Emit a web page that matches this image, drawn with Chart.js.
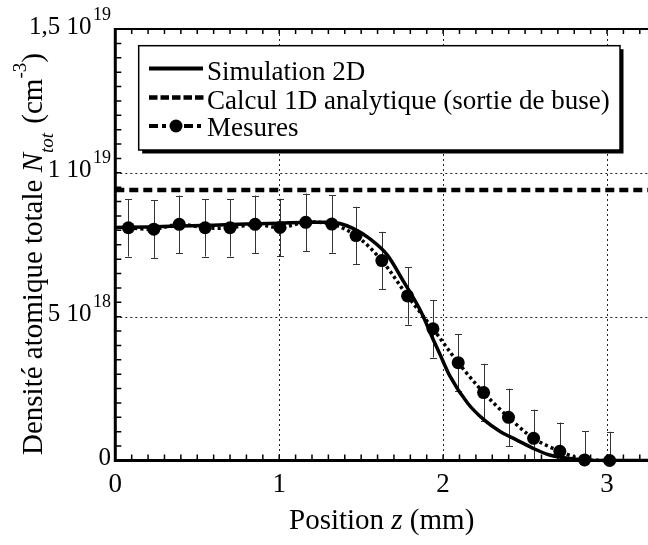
<!DOCTYPE html>
<html>
<head>
<meta charset="utf-8">
<script src="https://cdn.jsdelivr.net/npm/chart.js@4"></script>
<style>
html,body{margin:0;padding:0;background:#fff;}
canvas{display:block;}
</style>
</head>
<body>
<canvas id="c" width="648" height="545"></canvas>
<script>
// ---- Data (density in units of 1e18 cm^-3, position in mm) ----
const simX = [0, 0.2, 0.4, 0.6, 0.8, 1.0, 1.2, 1.3, 1.37, 1.45, 1.55, 1.66, 1.76, 1.86, 1.94, 1.98, 2.04, 2.15, 2.25, 2.35, 2.45, 2.55, 2.65, 2.76, 2.86, 3.0, 3.25];
const simY = [8.10, 8.12, 8.15, 8.18, 8.22, 8.25, 8.28, 8.28, 8.24, 8.07, 7.72, 7.14, 6.21, 5.23, 4.20, 3.70, 2.95, 1.99, 1.41, 1.00, 0.71, 0.42, 0.19, 0.08, 0.02, 0, 0];
const calcX = [0, 3.25];
const calcY = [9.4, 9.4];
const mesX = [0.08, 0.235, 0.39, 0.548, 0.70, 0.853, 1.005, 1.162, 1.321, 1.469, 1.626, 1.783, 1.938, 2.092, 2.247, 2.399, 2.552, 2.712, 2.863, 3.016];
const mesY = [8.09, 8.04, 8.21, 8.09, 8.09, 8.21, 8.10, 8.28, 8.22, 7.82, 6.95, 5.72, 4.58, 3.40, 2.36, 1.50, 0.77, 0.32, 0.02, 0.0];
const mesErr = [1.0, 1.0, 1.0, 1.0, 1.0, 1.0, 1.0, 1.0, 1.0, 1.0, 1.0, 1.0, 1.0, 1.0, 1.0, 1.0, 1.0, 1.0, 1.0, 1.0];
const seriesNames = ['Simulation 2D', 'Calcul 1D analytique (sortie de buse)', 'Mesures'];
const xTicks = [0, 1, 2, 3];
const xTickLabels = ['0', '1', '2', '3'];
const yTicks = [0, 5, 10, 15];
const yTickMant = ['0', '5 10', '1 10', '1,5 10'];
const yTickExp = ['', '18', '19', '19'];
const xGrid = [1, 2, 3];
const yGrid = [5, 10];

const SERIF = '"Liberation Serif", "Times New Roman", serif';

const deco = {
  id: 'deco',
  beforeDatasetsDraw(chart) {
    const {ctx, chartArea: a, scales: {x, y}} = chart;
    ctx.save();
    ctx.strokeStyle = '#222';
    ctx.lineWidth = 1;
    ctx.setLineDash([2, 3]);
    for (const v of xGrid) {
      const px = Math.round(x.getPixelForValue(v)) + 0.5;
      ctx.beginPath(); ctx.moveTo(px, a.top); ctx.lineTo(px, a.bottom); ctx.stroke();
    }
    for (const v of yGrid) {
      const py = Math.round(y.getPixelForValue(v)) + 0.5;
      ctx.beginPath(); ctx.moveTo(a.left, py); ctx.lineTo(a.right, py); ctx.stroke();
    }
    ctx.setLineDash([]);
    ctx.beginPath(); ctx.rect(a.left, a.top, a.right - a.left, a.bottom - a.top); ctx.clip();
    ctx.strokeStyle = '#333';
    ctx.lineWidth = 1;
    for (let i = 0; i < mesX.length; i++) {
      const px = Math.round(x.getPixelForValue(mesX[i])) + 0.5;
      const t = y.getPixelForValue(mesY[i] + mesErr[i]);
      const b = y.getPixelForValue(mesY[i] - mesErr[i]);
      ctx.beginPath();
      ctx.moveTo(px, t); ctx.lineTo(px, b);
      ctx.moveTo(px - 3.5, Math.round(t) + 0.5); ctx.lineTo(px + 3.5, Math.round(t) + 0.5);
      ctx.moveTo(px - 3.5, Math.round(b) + 0.5); ctx.lineTo(px + 3.5, Math.round(b) + 0.5);
      ctx.stroke();
    }
    ctx.restore();
  },
  afterDatasetsDraw(chart) {
    const {ctx, chartArea: a, scales: {x, y}} = chart;
    ctx.save();
    ctx.strokeStyle = '#000';
    ctx.lineWidth = 1.5;
    ctx.beginPath();
    for (let k = 0; k <= 32; k++) {
      const px = x.getPixelForValue(k / 10);
      ctx.moveTo(px, a.bottom); ctx.lineTo(px, a.bottom - 6);
      ctx.moveTo(px, a.top); ctx.lineTo(px, a.top + 5);
    }
    for (let k = 0; k <= 30; k++) {
      const py = y.getPixelForValue(k / 2);
      ctx.moveTo(a.left, py); ctx.lineTo(a.left + 6, py);
    }
    ctx.stroke();
    ctx.lineWidth = 2;
    ctx.beginPath(); ctx.moveTo(a.left, a.top); ctx.lineTo(a.right, a.top); ctx.stroke();
    ctx.lineWidth = 3;
    ctx.beginPath(); ctx.moveTo(a.left, a.top - 1); ctx.lineTo(a.left, a.bottom); ctx.lineTo(a.right, a.bottom); ctx.stroke();
    ctx.restore();
  },
  afterDraw(chart) {
    const {ctx, chartArea: a, scales: {x, y}} = chart;
    ctx.save();
    ctx.fillStyle = '#000';
    ctx.font = '27px ' + SERIF;
    ctx.textAlign = 'center';
    ctx.textBaseline = 'alphabetic';
    xTicks.forEach((v, i) => ctx.fillText(xTickLabels[i], x.getPixelForValue(v), 492));
    const rightEdge = 111;
    yTicks.forEach((v, i) => {
      const py = y.getPixelForValue(v);
      ctx.textAlign = 'left';
      ctx.font = '18px ' + SERIF;
      const ew = yTickExp[i] ? ctx.measureText(yTickExp[i]).width : 0;
      if (yTickExp[i]) ctx.fillText(yTickExp[i], rightEdge - ew, py - 9.5);
      ctx.font = '25px ' + SERIF;
      const mw = ctx.measureText(yTickMant[i]).width;
      ctx.fillText(yTickMant[i], rightEdge - ew - (ew ? 1.5 : 0) - mw, py + 4.5);
    });
    // x axis title
    const xt = [['Position ', 'normal'], ['z', 'italic'], [' (mm)', 'normal']];
    let tw = 0;
    xt.forEach(p => { ctx.font = p[1] + ' 29px ' + SERIF; tw += ctx.measureText(p[0]).width; });
    let cx = (a.left + a.right) / 2 - tw / 2;
    ctx.textAlign = 'left';
    xt.forEach(p => { ctx.font = p[1] + ' 29px ' + SERIF; ctx.fillText(p[0], cx, 529); cx += ctx.measureText(p[0]).width; });
    // y axis title (rotated), fitted between y=455 and y=52
    const parts = [
      ['Densité atomique totale ', 'normal', 29, 0, 0],
      ['N', 'italic', 29, 0, 0],
      ['tot', 'italic', 19, 11, 0],
      [' (cm', 'normal', 29, 0, 2],
      ['-3', 'normal', 19, -16, 0],
      [')', 'normal', 29, 0, 0]
    ];
    let total = 0;
    parts.forEach(p => { ctx.font = p[1] + ' ' + p[2] + 'px ' + SERIF; total += p[4] + ctx.measureText(p[0]).width; });
    const sc = Math.min(1, 403 / total);
    ctx.save();
    ctx.translate(42, 455);
    ctx.rotate(-Math.PI / 2);
    ctx.scale(sc, 1);
    let s = 0;
    parts.forEach(p => {
      ctx.font = p[1] + ' ' + p[2] + 'px ' + SERIF;
      s += p[4];
      ctx.fillText(p[0], s, p[3]);
      s += ctx.measureText(p[0]).width;
    });
    ctx.restore();
    // legend
    const lx = 138.7, ly = 45.7, lw = 481.3, lh = 104.3;
    ctx.fillStyle = '#000';
    ctx.fillRect(lx + 3.5, ly + 3.5, lw, lh);
    ctx.fillStyle = '#fff';
    ctx.fillRect(lx, ly, lw, lh);
    ctx.strokeStyle = '#000';
    ctx.lineWidth = 1.5;
    ctx.strokeRect(lx, ly, lw, lh);
    const rows = [68.5, 97.5, 126];
    const bases = [80, 108.5, 135.5];
    const ds = chart.data.datasets;
    ctx.lineCap = 'butt';
    ctx.lineWidth = 4; ctx.setLineDash([]);
    ctx.beginPath(); ctx.moveTo(149, rows[0]); ctx.lineTo(203, rows[0]); ctx.stroke();
    ctx.lineWidth = 4.5; ctx.setLineDash([8.5, 3]);
    ctx.beginPath(); ctx.moveTo(149, rows[1]); ctx.lineTo(204, rows[1]); ctx.stroke();
    ctx.lineWidth = 4; ctx.setLineDash([9, 4, 4, 4]);
    ctx.beginPath(); ctx.moveTo(149, rows[2]); ctx.lineTo(176, rows[2]); ctx.stroke();
    ctx.setLineDash([4, 4, 9, 4]);
    ctx.beginPath(); ctx.moveTo(176, rows[2]); ctx.lineTo(203, rows[2]); ctx.stroke();
    ctx.setLineDash([]);
    ctx.fillStyle = '#000';
    ctx.beginPath(); ctx.arc(176, rows[2], 6.5, 0, Math.PI * 2); ctx.fill();
    ctx.font = '27px ' + SERIF;
    ctx.textAlign = 'left';
    ds.forEach((d, i) => ctx.fillText(d.label, 207, bases[i]));
    ctx.restore();
  }
};

const pts = (xs, ys) => xs.map((v, i) => ({x: v, y: ys[i]}));

new Chart(document.getElementById('c'), {
  type: 'scatter',
  data: {
    datasets: [
      {
        label: seriesNames[0],
        data: pts(simX, simY),
        showLine: true,
        borderColor: '#000',
        borderWidth: 3.5,
        pointRadius: 0,
        cubicInterpolationMode: 'monotone'
      },
      {
        label: seriesNames[1],
        data: pts(calcX, calcY),
        showLine: true,
        borderColor: '#000',
        borderWidth: 4.5,
        borderDash: [9, 5],
        pointRadius: 0
      },
      {
        label: seriesNames[2],
        data: pts(mesX, mesY),
        showLine: true,
        borderColor: '#000',
        borderWidth: 3.5,
        borderDash: [3, 3],
        pointRadius: 6.5,
        pointBorderWidth: 0,
        pointBackgroundColor: '#000',
        tension: 0.3,
        clip: false
      }
    ]
  },
  options: {
    responsive: false,
    animation: false,
    devicePixelRatio: 1,
    layout: {autoPadding: false, padding: {left: 0, top: 29, right: 0, bottom: 0}},
    plugins: {legend: {display: false}, tooltip: {enabled: false}},
    events: [],
    scales: {
      x: {
        type: 'linear', min: 0, max: 3.25,
        grid: {display: false}, border: {display: false},
        ticks: {display: false},
        afterFit(s) { s.height = 84.5; s.paddingLeft = 0; s.paddingRight = 0; }
      },
      y: {
        type: 'linear', min: 0, max: 15,
        grid: {display: false}, border: {display: false},
        ticks: {display: false},
        afterFit(s) { s.width = 115.3; s.paddingTop = 0; s.paddingBottom = 0; }
      }
    }
  },
  plugins: [deco]
});
</script>
</body>
</html>
